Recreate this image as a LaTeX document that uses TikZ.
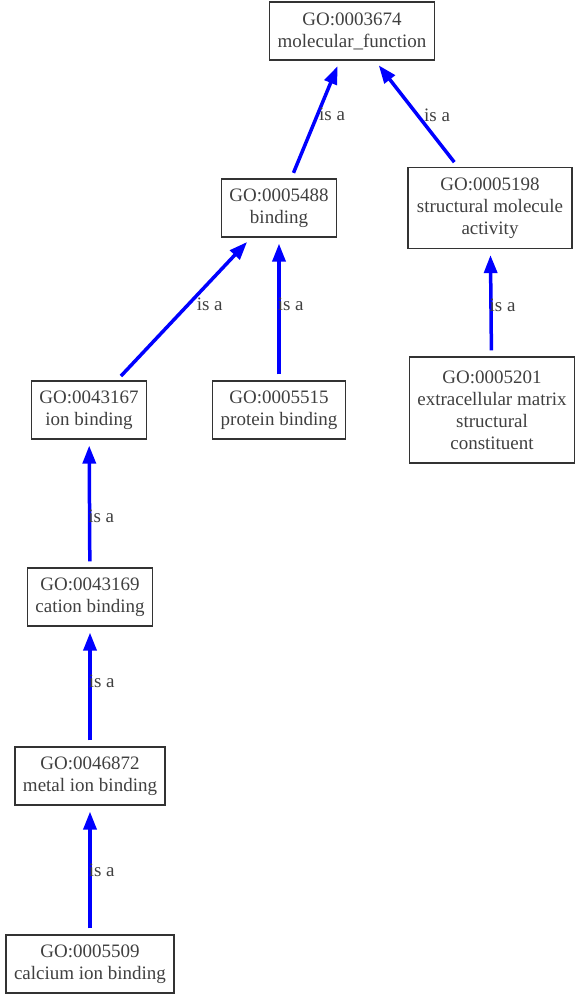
\documentclass[tikz,border=0pt]{standalone}
\usepackage{fontspec}
\setmainfont{Liberation Serif}
\usetikzlibrary{arrows.meta}

\tikzset{
  term/.style={draw=black!80,line width=1.2pt,align=center,inner xsep=8pt,inner ysep=6pt,
    minimum height=58pt,text=black!75,font=\fontsize{19}{22}\selectfont},
  isa/.style={draw=blue,line width=3.5pt,-{Triangle[length=18pt,width=13pt]},
    shorten <=6pt,shorten >=6pt},
  lbl/.style={anchor=west,inner sep=0pt,xshift=-3pt,text=black!75,font=\fontsize{19}{22}\selectfont}
}

\begin{document}
\begin{tikzpicture}[x=1pt,y=-1pt]
\useasboundingbox (0,0) rectangle (583,994);
% terms
\node[term] (mf) at (352,31) {GO:0003674\\molecular\_function};
\node[term] (bind) at (279,208) {GO:0005488\\binding};
\node[term,minimum width=164pt,minimum height=81pt] (struct) at (490,208) {GO:0005198\\structural molecule\\activity};
\node[term] (ion) at (89,410) {GO:0043167\\ion binding};
\node[term] (prot) at (279,410) {GO:0005515\\protein binding};
\node[term,minimum height=106pt] (ecm) at (492,410) {GO:0005201\\extracellular matrix\\structural\\constituent};
\node[term] (cat) at (90,597) {GO:0043169\\cation binding};
\node[term] (metal) at (90,776) {GO:0046872\\metal ion binding};
\node[term] (calc) at (90,964) {GO:0005509\\calcium ion binding};
% is a edges
\draw[isa] (bind) -- node[lbl,pos=0.54,xshift=3pt] {is a} (mf);
\draw[isa] (struct) -- node[lbl,pos=0.49,xshift=8pt] {is a} (mf);
\draw[isa] (ion) -- node[lbl,pos=0.53,xshift=10pt] {is a} (bind);
\draw[isa] (prot) -- node[lbl,pos=0.53] {is a} (bind);
\draw[isa] (ecm) -- node[lbl,pos=0.48] {is a} (struct);
\draw[isa] (cat) -- node[lbl,pos=0.40] {is a} (ion);
\draw[isa] (metal) -- node[lbl,pos=0.54] {is a} (cat);
\draw[isa] (calc) -- node[lbl,pos=0.5] {is a} (metal);
\end{tikzpicture}
\end{document}
